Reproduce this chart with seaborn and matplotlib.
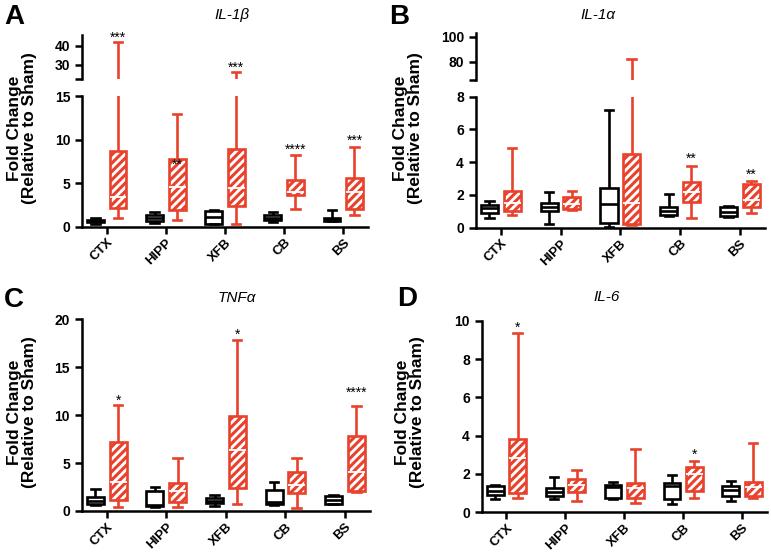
import matplotlib
matplotlib.use("Agg")
import matplotlib.pyplot as plt
import numpy as np
import pandas as pd
import seaborn as sns

regions = ["CTX", "HIPP", "XFB", "CB", "BS"]
groups = ["Sham", "Injured"]
RED = "#E8412C"

# five-number summaries per region: [min, q1, median, q3, max]
il1b_sham = [[0.35, 0.5, 0.65, 0.8, 0.95], [0.45, 0.6, 0.95, 1.35, 1.7], [0.3, 0.35, 1.15, 1.8, 1.9],
             [0.57, 0.8, 1.05, 1.3, 1.7], [0.68, 0.7, 0.85, 1.05, 1.9]]
il1b_inj = [[0.95, 2.2, 3.45, 8.7, 41.8], [0.75, 1.9, 4.5, 7.75, 12.9], [0.3, 2.4, 4.4, 8.9, 26.5],
            [2.0, 3.65, 4.0, 5.35, 8.25], [1.35, 2.0, 4.0, 5.55, 9.2]]

il1a_sham = [[0.57, 0.88, 1.18, 1.38, 1.63], [0.22, 1.02, 1.28, 1.53, 2.16], [0.06, 0.3, 1.43, 2.4, 7.19],
             [0.71, 0.77, 1.04, 1.28, 2.04], [0.67, 0.73, 0.98, 1.28, 1.3]]
il1a_inj = [[0.77, 1.02, 1.49, 2.26, 4.89], [1.08, 1.14, 1.45, 1.89, 2.24], [0.16, 0.2, 1.53, 4.48, 81.9],
            [0.57, 1.59, 2.2, 2.77, 3.79], [0.88, 1.24, 1.69, 2.65, 2.85]]

tnfa_sham = [[0.63, 0.7, 1.04, 1.5, 2.26], [0.38, 0.52, 0.65, 2.09, 2.5], [0.52, 0.8, 1.04, 1.39, 1.67],
             [0.63, 0.73, 0.9, 2.19, 3.06], [0.7, 0.77, 1.11, 1.6, 1.67]]
tnfa_inj = [[0.38, 1.15, 3.06, 7.23, 11.06], [0.38, 0.97, 2.09, 2.89, 5.5], [0.73, 2.37, 6.37, 9.91, 17.84],
            [0.28, 1.91, 2.71, 4.03, 5.57], [2.0, 2.12, 4.1, 7.83, 10.96]]

il6_sham = [[0.7, 0.9, 1.11, 1.37, 1.43], [0.7, 0.87, 1.08, 1.25, 1.86], [0.68, 0.73, 1.3, 1.4, 1.6],
            [0.42, 0.68, 1.39, 1.51, 1.95], [0.59, 0.87, 1.17, 1.39, 1.63]]
il6_inj = [[0.77, 0.99, 2.82, 3.83, 9.34], [0.59, 1.04, 1.43, 1.74, 2.2], [0.5, 0.77, 1.25, 1.51, 3.29],
           [0.77, 1.11, 2.0, 2.38, 2.7], [0.77, 0.87, 1.3, 1.57, 3.6]]

# significance marks: (region, y, text, on upper segment)
il1b_stars = [("CTX", 45.5, "***", True), ("HIPP", 7.4, "**", False), ("XFB", 30.0, "***", True),
              ("CB", 9.2, "****", False), ("BS", 10.15, "***", False)]
il1a_stars = [("CB", 4.4, "**", False), ("BS", 3.42, "**", False)]
tnfa_stars = [("CTX", 11.76, "*", False), ("XFB", 18.7, "*", False), ("BS", 12.6, "****", False)]
il6_stars = [("CTX", 9.77, "*", False), ("CB", 3.17, "*", False)]

plt.rcParams["font.family"] = ["Liberation Sans", "DejaVu Sans"]
plt.rcParams["font.weight"] = "bold"
plt.rcParams["hatch.linewidth"] = 2.2

W, H = 771, 555
fig = plt.figure(figsize=(W / 100, H / 100), dpi=100)


def px_axes(l, t, r, b):
    return fig.add_axes([l / W, 1 - b / H, (r - l) / W, (b - t) / H])


def long_table(summary, group):
    rows = []
    for reg, vals in zip(regions, summary):
        for v in vals:
            rows.append({"region": reg, "group": group, "value": v})
    return pd.DataFrame(rows)


def draw_boxes(ax, sham, injured):
    common = dict(x="region", y="value", hue="group", order=regions, hue_order=groups,
                  whis=(0, 100), width=0.76, gap=0.25, dodge=True, showfliers=False,
                  legend=False, ax=ax, linewidth=1.9)
    sns.boxplot(data=long_table(sham, "Sham"), palette={"Sham": "white", "Injured": "white"},
                linecolor="black", **common)
    sns.boxplot(data=long_table(injured, "Injured"), palette={"Sham": "white", "Injured": "white"},
                linecolor=RED, boxprops=dict(facecolor="white", edgecolor=RED, hatch="////"),
                medianprops=dict(color="white", linewidth=1.3), **common)
    ax.set_xlim(-0.42, 4.42)
    ax.set_xlabel("")
    ax.set_ylabel("")
    for s in ["top", "right"]:
        ax.spines[s].set_visible(False)
    for s in ["left", "bottom"]:
        ax.spines[s].set_linewidth(1.8)
    ax.tick_params(width=1.8, length=5, labelsize=10)
    ax.tick_params(axis="x", pad=2)


def lower_axis(ax, ymax, step):
    ax.set_ylim(0, ymax)
    ax.set_yticks(np.arange(0, ymax + 0.01, step))
    ax.set_yticklabels([f"{v:g}" for v in np.arange(0, ymax + 0.01, step)], fontweight="bold")
    ax.set_xticks(range(len(regions)))
    ax.set_xticklabels(regions, rotation=45, ha="right", rotation_mode="anchor",
                       fontweight="bold", fontsize=9.5)


def upper_axis(ax, lo, hi, ticks):
    ax.set_ylim(lo, hi)
    ax.set_yticks([lo] + ticks)
    ax.set_yticklabels([""] + [f"{v:g}" for v in ticks], fontweight="bold")
    ax.spines["bottom"].set_visible(False)
    ax.set_xticks([])


def add_stars(ax_lo, ax_hi, stars):
    for reg, y, txt, upper in stars:
        ax = ax_hi if upper else ax_lo
        ax.annotate(txt, (regions.index(reg) + 0.19, y), xytext=(0, -2), textcoords="offset points",
                    ha="center", va="center", fontsize=10, fontweight="normal", annotation_clip=False)


# panel A
a_lo = px_axes(82, 96, 368, 226.7)
a_hi = px_axes(82, 35, 368, 79.3)
for ax in (a_lo, a_hi):
    draw_boxes(ax, il1b_sham, il1b_inj)
lower_axis(a_lo, 15, 5)
upper_axis(a_hi, 22.6, 45.5, [30, 40])
add_stars(a_lo, a_hi, il1b_stars)

# panel B
b_lo = px_axes(475.7, 96.7, 765, 227.7)
b_hi = px_axes(475.7, 33, 765, 80)
for ax in (b_lo, b_hi):
    draw_boxes(ax, il1a_sham, il1a_inj)
lower_axis(b_lo, 8, 2)
upper_axis(b_hi, 65.4, 103, [80, 100])
add_stars(b_lo, b_hi, il1a_stars)

# panel C
c_ax = px_axes(81.7, 319.3, 370, 511)
draw_boxes(c_ax, tnfa_sham, tnfa_inj)
lower_axis(c_ax, 20, 5)
add_stars(c_ax, None, tnfa_stars)

# panel D
d_ax = px_axes(481.7, 320.7, 766.7, 512.3)
draw_boxes(d_ax, il6_sham, il6_inj)
lower_axis(d_ax, 10, 2)
add_stars(d_ax, None, il6_stars)

# panel letters, titles, y labels
for x, y, t in [(14, 17, "A"), (399, 17, "B"), (14, 300, "C"), (407, 299, "D")]:
    fig.text(x / W, 1 - y / H, t, fontsize=20, fontweight="bold", ha="center", va="center")
for x, y, t in [(232, 15, "IL-1β"), (598, 15, "IL-1α"), (237, 298, "TNFα"), (607, 297, "IL-6")]:
    fig.text(x / W, 1 - y / H, t, fontsize=11, fontstyle="italic", fontweight="normal",
             ha="center", va="center")
for x, y in [(22, 128), (408, 128), (22, 412), (410, 412)]:
    fig.text(x / W, 1 - y / H, "Fold Change\n(Relative to Sham)", rotation=90, fontsize=12.5,
             fontweight="bold", ha="center", va="center", linespacing=1.0)

fig.savefig("out.png", dpi=100)
